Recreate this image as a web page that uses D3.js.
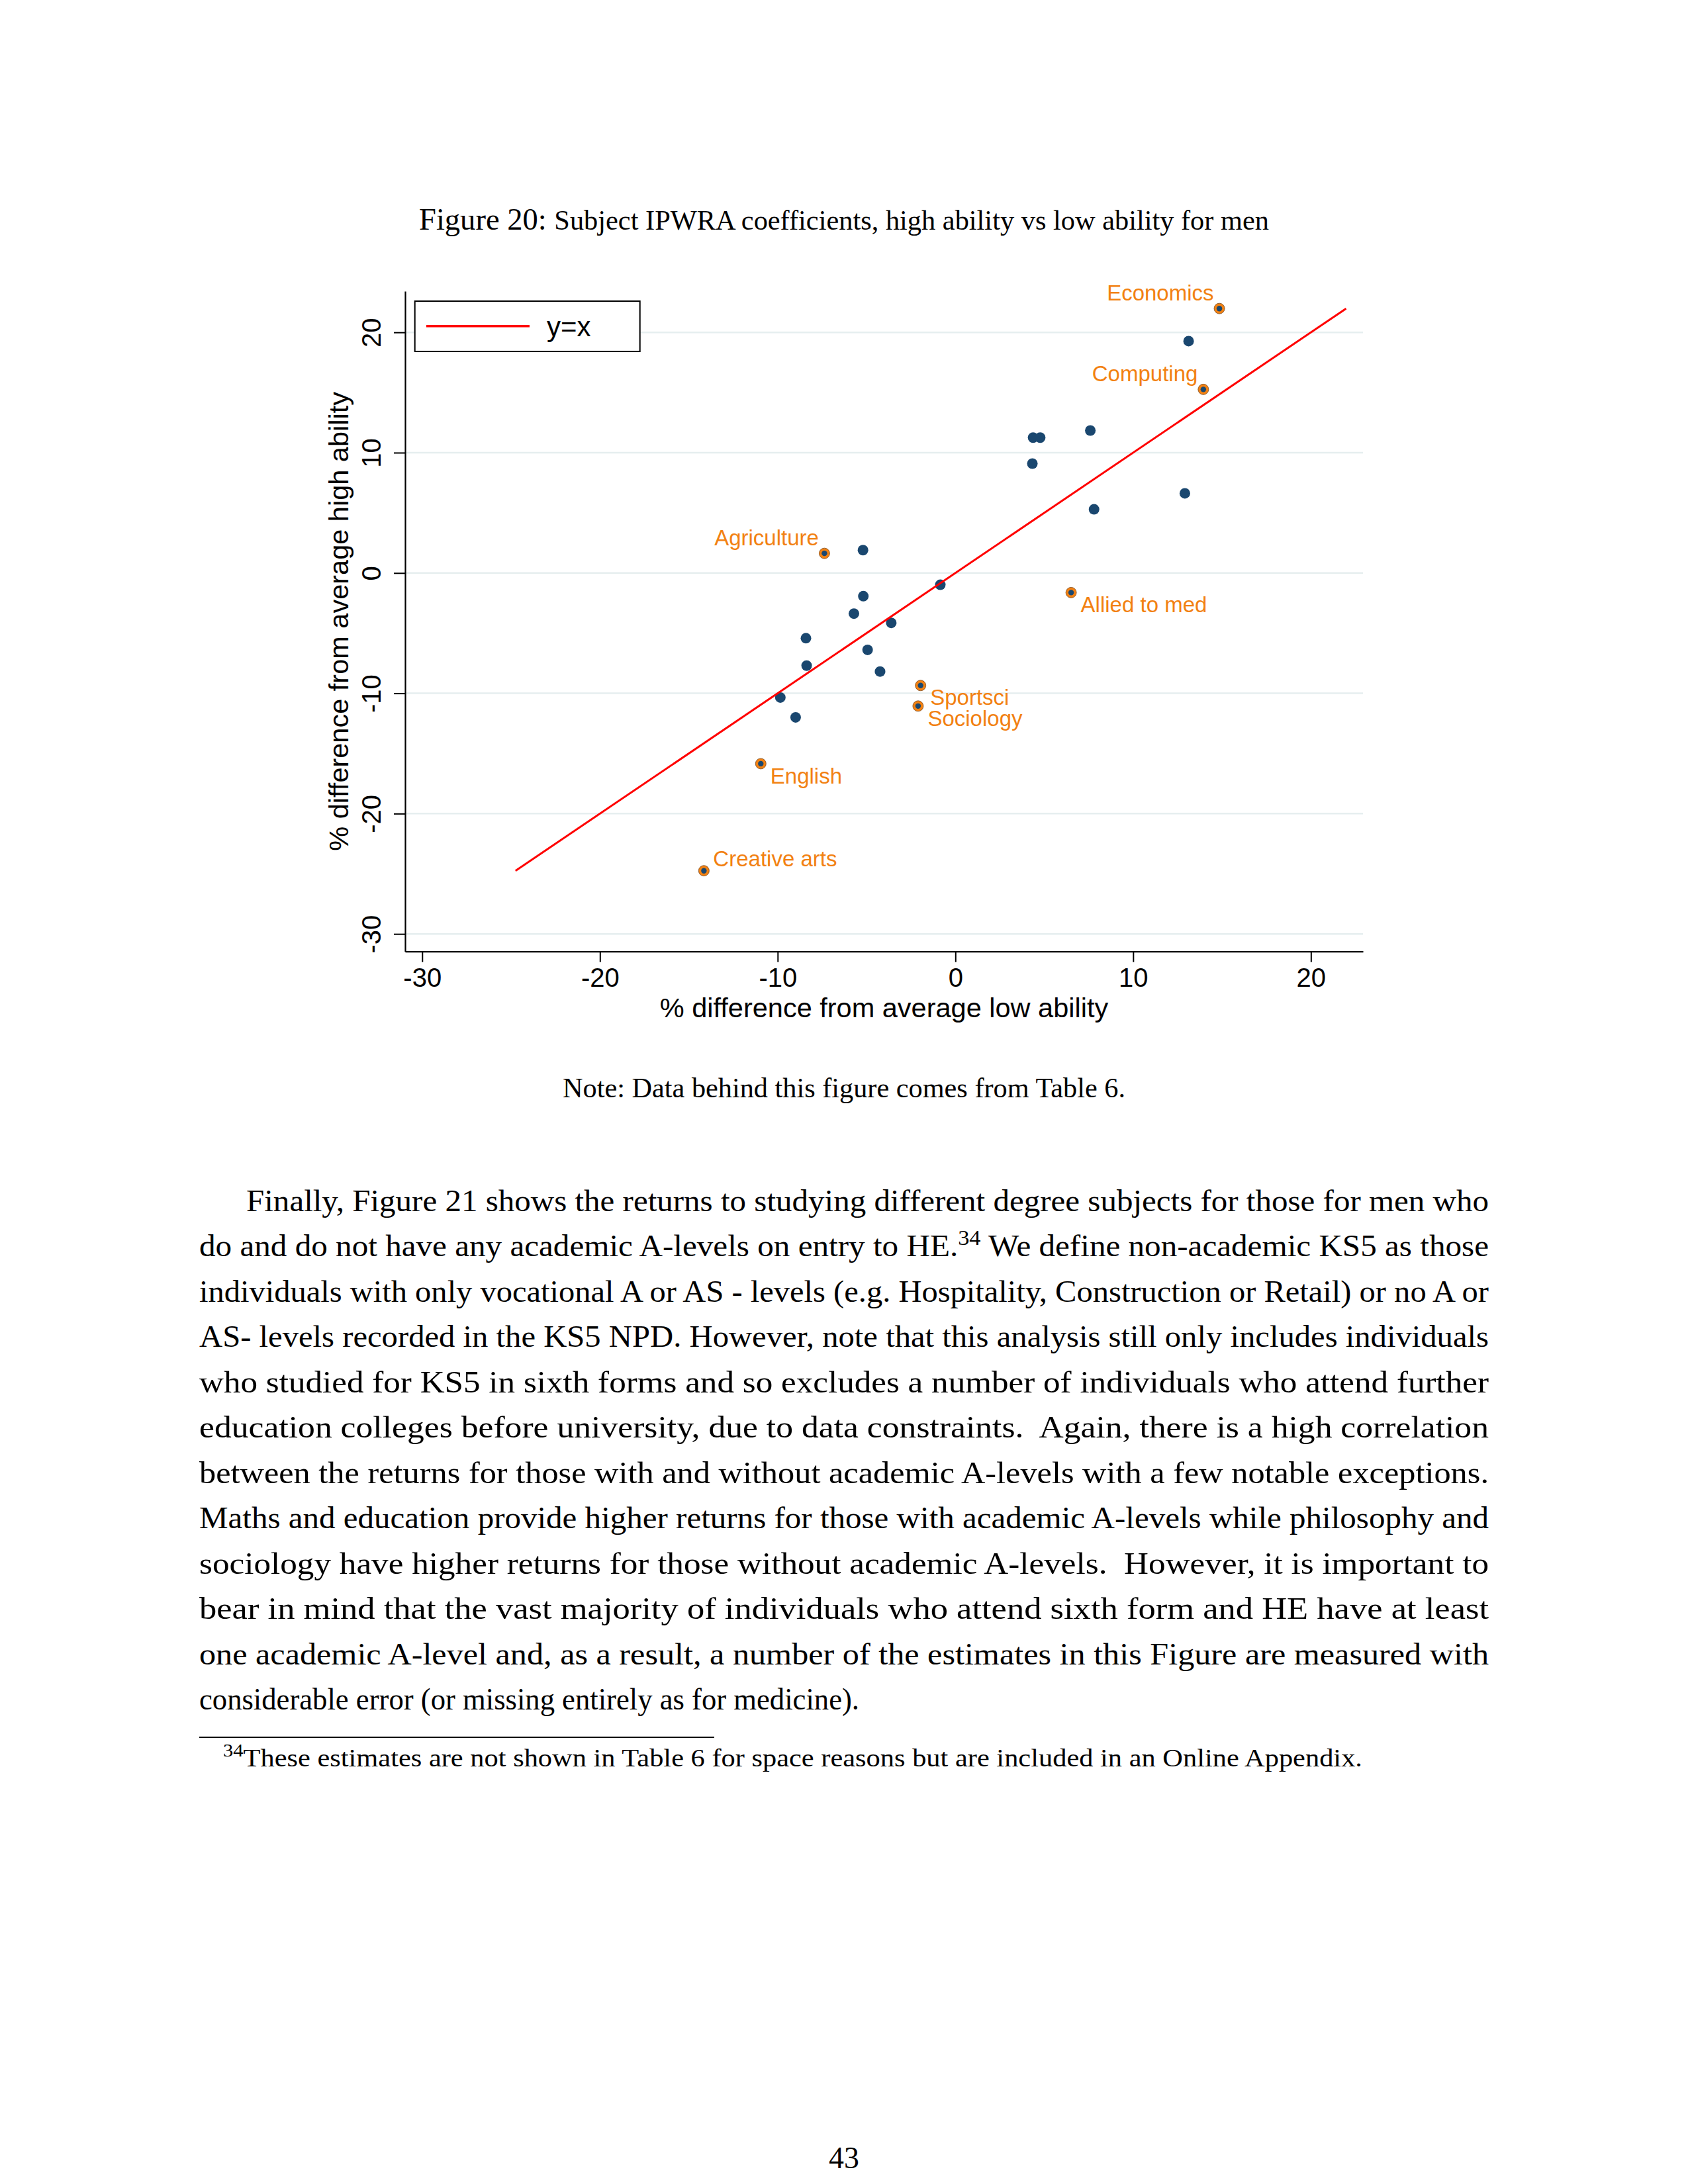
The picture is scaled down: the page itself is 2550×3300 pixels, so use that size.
<!DOCTYPE html>
<html><head><meta charset="utf-8">
<script src="https://cdn.jsdelivr.net/npm/d3@7"></script>
<style>body{margin:0;background:#fff}</style>
</head><body><svg id="page" width="2550" height="3300"></svg>
<script>
// ---------- data ----------
const subjects = ["Economics","","Computing","","","","","","","Agriculture","","","Allied to med","","","","","","","","Sportsci","","Sociology","","English","Creative arts"];
const lowAbility  = [14.85,13.12,13.95,7.59,4.37,4.77,4.33,12.91,7.80,-7.37,-5.20,-0.85,6.51,-5.18,-5.71,-3.61,-8.41,-4.94,-8.37,-4.24,-1.96,-9.85,-2.10,-8.99,-10.95,-14.15];
const highAbility = [21.98,19.27,15.26,11.84,11.25,11.25,9.09,6.62,5.29,1.63,1.90,-0.98,-1.63,-1.93,-3.38,-4.15,-5.42,-6.39,-7.70,-8.19,-9.35,-10.35,-11.06,-12.00,-15.85,-24.75];
const xTicks = [-30,-20,-10,0,10,20];
const yTicks = [-30,-20,-10,0,10,20];
const xTickLabels = ["-30","-20","-10","0","10","20"];
const yTickLabels = ["-30","-20","-10","0","10","20"];
const legendLabels = ["y=x"];
const xTitle = "% difference from average low ability";
const yTitle = "% difference from average high ability";
const captionLead = "Figure 20: ";
const captionRest = "Subject IPWRA coefficients, high ability vs low ability for men";
const noteText = "Note: Data behind this figure comes from Table 6.";
const bodyLines = [
 "Finally, Figure 21 shows the returns to studying different degree subjects for those for men who",
 "do and do not have any academic A-levels on entry to HE.|34| We define non-academic KS5 as those",
 "individuals with only vocational A or AS - levels (e.g. Hospitality, Construction or Retail) or no A or",
 "AS- levels recorded in the KS5 NPD. However, note that this analysis still only includes individuals",
 "who studied for KS5 in sixth forms and so excludes a number of individuals who attend further",
 "education colleges before university, due to data constraints.  Again, there is a high correlation",
 "between the returns for those with and without academic A-levels with a few notable exceptions.",
 "Maths and education provide higher returns for those with academic A-levels while philosophy and",
 "sociology have higher returns for those without academic A-levels.  However, it is important to",
 "bear in mind that the vast majority of individuals who attend sixth form and HE have at least",
 "one academic A-level and, as a result, a number of the estimates in this Figure are measured with",
 "considerable error (or missing entirely as for medicine)."
];
const footnoteMark = "34";
const footnoteText = "These estimates are not shown in Table 6 for space reasons but are included in an Online Appendix.";
const pageNumber = "43";

// ---------- styles / layout ----------
const labelClock = {"Economics":11,"Computing":11,"Agriculture":11,"Allied to med":5,"Sportsci":5,"Sociology":5,"English":5,"Creative arts":2};
const NAVY = "#1a476f", ORANGE = "#f28112", RED = "#ff0000", GRID = "#e6eeef";
const SANS = "'Liberation Sans', Arial, sans-serif";
const SERIF = "'Liberation Serif', 'Times New Roman', serif";

const svg = d3.select("#page");
svg.append("rect").attr("width",2550).attr("height",3300).attr("fill","#fff");

const x = d3.scaleLinear().domain([-30.96, 22.93]).range([612, 2059]);
const y = d3.scaleLinear().domain([-31.46, 23.42]).range([1437.7, 440]);

const pts = subjects.map((s,i)=>({name:s, lx:lowAbility[i], hy:highAbility[i]}));

// gridlines
svg.append("g").selectAll("line").data(yTicks).join("line")
  .attr("x1", x.range()[0]).attr("x2", x.range()[1])
  .attr("y1", d=>y(d)).attr("y2", d=>y(d))
  .attr("stroke", GRID).attr("stroke-width", 2.5);

// points
const gp = svg.append("g");
gp.selectAll("circle.dot").data(pts.filter(d=>!d.name)).join("circle")
  .attr("class","dot").attr("cx",d=>x(d.lx)).attr("cy",d=>y(d.hy)).attr("r",8).attr("fill",NAVY);
const lab = pts.filter(d=>d.name);
gp.selectAll("circle.ring").data(lab).join("circle")
  .attr("class","ring").attr("cx",d=>x(d.lx)).attr("cy",d=>y(d.hy)).attr("r",8)
  .attr("fill",ORANGE).attr("stroke","#7a4a20").attr("stroke-width",0.8);
gp.selectAll("circle.core").data(lab).join("circle")
  .attr("class","core").attr("cx",d=>x(d.lx)).attr("cy",d=>y(d.hy)).attr("r",4.2).attr("fill",NAVY);

// y = x line
const ext = d3.extent(lowAbility.concat(highAbility));
svg.append("line")
  .attr("x1", x(ext[0])).attr("y1", y(ext[0]))
  .attr("x2", x(ext[1])).attr("y2", y(ext[1]))
  .attr("stroke", RED).attr("stroke-width", 3);

// labels
const off = {11:{a:"end",dx:-8.5,dy:-12.5}, 2:{a:"start",dx:14,dy:-7}, 5:{a:"start",dx:14.5,dy:29.7}};
svg.append("g").selectAll("text").data(lab).join("text")
  .attr("x", d=>x(d.lx)+off[labelClock[d.name]].dx)
  .attr("y", d=>y(d.hy)+off[labelClock[d.name]].dy)
  .attr("text-anchor", d=>off[labelClock[d.name]].a)
  .attr("font-family", SANS).attr("font-size", 33).attr("fill", ORANGE)
  .text(d=>d.name);

// axes
const xa = svg.append("g").attr("transform", `translate(0,${y.range()[0]})`)
  .call(d3.axisBottom(x).tickValues(xTicks).tickSize(16).tickSizeOuter(0)
    .tickFormat((d,i)=>xTickLabels[i]));
xa.select(".domain").attr("stroke","#000").attr("stroke-width",2.2);
xa.selectAll(".tick line").attr("stroke","#000").attr("stroke-width",2);
xa.selectAll(".tick text").attr("y",53).attr("dy",0).attr("font-family",SANS).attr("font-size",40).attr("fill","#000");

const ya = svg.append("g").attr("transform", `translate(${x.range()[0]},0)`)
  .call(d3.axisLeft(y).tickValues(yTicks).tickSize(17).tickSizeOuter(0)
    .tickFormat((d,i)=>yTickLabels[i]));
ya.select(".domain").attr("stroke","#000").attr("stroke-width",2.2);
ya.selectAll(".tick line").attr("stroke","#000").attr("stroke-width",2);
ya.selectAll(".tick text").attr("x",0).attr("y",0).attr("dy",0).attr("text-anchor","middle")
  .attr("transform","translate(-37,0) rotate(-90)")
  .attr("font-family",SANS).attr("font-size",40).attr("fill","#000");

// axis titles
svg.append("text").attr("x", (x.range()[0]+x.range()[1])/2).attr("y", 1537)
  .attr("text-anchor","middle").attr("font-family",SANS).attr("font-size",41.5).text(xTitle);
svg.append("text").attr("transform", `translate(526,${(y.range()[0]+y.range()[1])/2}) rotate(-90)`)
  .attr("text-anchor","middle").attr("font-family",SANS).attr("font-size",41.5).text(yTitle);

// legend
const lg = svg.append("g");
lg.append("rect").attr("x",626.7).attr("y",455).attr("width",340).attr("height",76)
  .attr("fill","#fff").attr("stroke","#000").attr("stroke-width",2);
lg.append("line").attr("x1",644).attr("x2",800).attr("y1",492.7).attr("y2",492.7)
  .attr("stroke",RED).attr("stroke-width",3.5);
lg.append("text").attr("x",826).attr("y",508).attr("font-family",SANS).attr("font-size",42).text(legendLabels[0]);

// ---------- page text ----------
const cap = svg.append("text").attr("x",1275).attr("y",347).attr("text-anchor","middle")
  .attr("font-family",SERIF).style("white-space","pre")
  .attr("textLength",1284).attr("lengthAdjust","spacingAndGlyphs");
cap.append("tspan").attr("font-size",45.8).text(captionLead);
cap.append("tspan").attr("font-size",41.7).text(captionRest);

svg.append("text").attr("x",850).attr("y",1658).attr("font-family",SERIF).attr("font-size",41.7)
  .attr("textLength",850).attr("lengthAdjust","spacingAndGlyphs").text(noteText);

const L = 301, R = 2249, base0 = 1829.5, lh = 68.5;
bodyLines.forEach((line,i)=>{
  const x0 = i===0 ? 372 : L;
  const last = i===bodyLines.length-1;
  const t = svg.append("text").attr("x",x0).attr("y",base0+i*lh)
    .attr("font-family",SERIF).attr("font-size",45.8).style("white-space","pre")
    .attr("textLength", last ? 997 : R-x0).attr("lengthAdjust","spacingAndGlyphs");
  const parts = line.split("|");
  parts.forEach((p,j)=>{
    if (j%2===1) t.append("tspan").attr("font-size",32).attr("dy",-17).text(p);
    else if (j>0) t.append("tspan").attr("dy",17).text(p);
    else t.append("tspan").text(p);
  });
});

svg.append("line").attr("x1",301).attr("x2",1079).attr("y1",2625).attr("y2",2625)
  .attr("stroke","#000").attr("stroke-width",2);
const fn = svg.append("text").attr("x",337).attr("y",2669).attr("font-family",SERIF).attr("font-size",37.5)
  .attr("textLength",1721).attr("lengthAdjust","spacingAndGlyphs");
fn.append("tspan").attr("font-size",27).attr("dy",-15).text(footnoteMark);
fn.append("tspan").attr("dy",15).text(footnoteText);

svg.append("text").attr("x",1275).attr("y",3276).attr("text-anchor","middle")
  .attr("font-family",SERIF).attr("font-size",45.8).text(pageNumber);
</script>
</body></html>
